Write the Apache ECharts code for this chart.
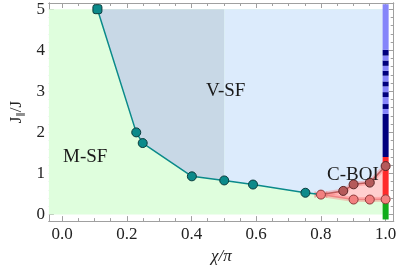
<!DOCTYPE html>
<html><head><meta charset="utf-8">
<script src="https://cdn.jsdelivr.net/npm/echarts@6/dist/echarts.min.js"></script>
<style>html,body{margin:0;padding:0;background:#fff}#c{width:399px;height:270px}</style>
</head><body><div id="c"></div>
<script>
// ---- axis ranges & ticks ----
const xRange = [-0.041, 1.025];
const yRange = [-0.16, 5.15];
const xTicks = [0, 0.2, 0.4, 0.6, 0.8, 1.0];
const xMinorTicks = [0.05,0.1,0.15,0.25,0.3,0.35,0.45,0.5,0.55,0.65,0.7,0.75,0.85,0.9,0.95];
const yTicks = [0, 1, 2, 3, 4, 5];
const yMinorTicks = [0.2,0.4,0.6,0.8,1.2,1.4,1.6,1.8,2.2,2.4,2.6,2.8,3.2,3.4,3.6,3.8,4.2,4.4,4.6,4.8];

// ---- phase boundaries (chi/pi, J||/J) ----
const msfBoundary = [[0.109,5.0],[0.229,2.0],[0.249,1.74],[0.401,0.93],[0.501,0.83],[0.590,0.73],[0.752,0.53],[0.80,0.485]];
const boiUpper = [[0.80,0.485],[0.869,0.575],[0.901,0.735],[0.951,0.777],[1.0,1.18]];
const boiLower = [[0.80,0.485],[0.901,0.365],[0.951,0.365],[1.0,0.37]];
const boiErrX = [[0.782, 0.818, 0.485]];
const diagramTop = 5.0;
const diagramBottom = 0.0;
const vsfDivider = 0.501;
const edgeX = 1.0;
// phases along chi/pi = 1 : [from, to, phase]
const edgePhases = [
  [-0.12,0.28,'MSF'],[0.28,1.40,'BOI'],[1.40,2.45,'N'],[2.45,2.57,'L'],
  [2.57,2.69,'N'],[2.69,2.86,'L'],[2.86,2.98,'N'],[2.98,3.12,'L'],
  [3.12,3.24,'N'],[3.24,3.38,'L'],[3.38,3.50,'N'],[3.50,3.62,'L'],
  [3.62,3.75,'N'],[3.75,3.87,'L'],[3.87,4.01,'N'],[4.01,5.12,'L']
];
const regionLabels = ['V-SF','M-SF','C-BOI'];

const phaseColor = {MSF:'#0fac1a', BOI:'#ff2a2a', N:'#00007e', L:'#8585fa'};

const chart = echarts.init(document.getElementById('c'), null, {renderer:'canvas'});

function poly(points, color, z){
  return {type:'custom', coordinateSystem:'cartesian2d', xAxisIndex:0, yAxisIndex:0, z:z, silent:true,
    data:[[points[0][0], points[0][1]]],
    renderItem:(params, api)=>({type:'polygon', shape:{points:points.map(p=>api.coord(p))}, style:{fill:color}})
  };
}

const greenPoly = [[xRange[0],diagramBottom],[edgeX,diagramBottom],[edgeX,diagramTop],[xRange[0],diagramTop]];
const grayPoly = msfBoundary.filter(p=>p[0]<=vsfDivider).concat([[vsfDivider,diagramTop]]);
const bluePoly = msfBoundary.filter(p=>p[0]>=vsfDivider).concat(boiUpper.slice(1)).concat([[edgeX,diagramTop],[vsfDivider,diagramTop]]);
const pinkPoly = boiUpper.concat(boiLower.slice().reverse());

const axisCol = '#a0a0a0';
const lblFont = {fontFamily:'Liberation Serif', fontSize:17, color:'#222'};
function xAx(pos, ticks, len, labels){
  return {type:'value', position:pos, min:xRange[0], max:xRange[1],
    axisLine:{show:true, onZero:false, lineStyle:{color:axisCol, width:1}},
    axisTick:{show:true, inside:true, length:len, customValues:ticks, lineStyle:{color:axisCol}},
    axisLabel: labels ? Object.assign({show:true, customValues:xTicks, margin:5, formatter:v=>Number(v).toFixed(1)}, lblFont) : {show:false},
    splitLine:{show:false}};
}
function yAx(pos, ticks, len, labels){
  return {type:'value', position:pos, min:yRange[0], max:yRange[1],
    axisLine:{show:true, onZero:false, lineStyle:{color:axisCol, width:1}},
    axisTick:{show:true, inside:true, length:len, customValues:ticks, lineStyle:{color:axisCol}},
    axisLabel: labels ? Object.assign({show:true, customValues:yTicks, margin:4, formatter:v=>String(Math.round(v))}, lblFont) : {show:false},
    splitLine:{show:false}};
}
const xAxes = [xAx('bottom', xTicks, 5, true), xAx('bottom', xMinorTicks, 3, false), xAx('top', xTicks, 5, false), xAx('top', xMinorTicks, 3, false)];
xAxes[0].name = 'χ/π';
xAxes[0].nameLocation = 'middle';
xAxes[0].nameGap = 25;
xAxes[0].nameTextStyle = {fontFamily:'Liberation Serif', fontStyle:'italic', fontSize:17, color:'#222'};
const yAxes = [yAx('left', yTicks, 5, true), yAx('left', yMinorTicks, 3, false), yAx('right', yTicks, 5, false), yAx('right', yMinorTicks, 3, false)];
yAxes[0].name = '{a|J}{b|∥}{a|/J}';
yAxes[0].nameLocation = 'middle';
yAxes[0].nameRotate = 90;
yAxes[0].nameGap = 20;
yAxes[0].nameTextStyle = {color:'#222', rich:{a:{fontFamily:'Liberation Serif', fontSize:17, color:'#222'}, b:{fontFamily:'DejaVu Sans', fontSize:9, color:'#222', padding:[9,0,0,0]}}};

const series = [
  poly(greenPoly, '#dffedd', 1),
  poly(grayPoly, '#c8d8e6', 2),
  poly(bluePoly, '#dcebfc', 2),
  poly(pinkPoly, '#ffcfcf', 3),
  {type:'custom', coordinateSystem:'cartesian2d', z:4, silent:true, data:edgePhases.map(s=>[s[0],s[1]]),
    renderItem:(params, api)=>{
      const p0 = api.coord([edgeX, api.value(0)]), p1 = api.coord([edgeX, api.value(1)]);
      return {type:'rect', shape:{x:p0[0]-3, y:p1[1], width:6, height:p0[1]-p1[1]},
        style:{fill:phaseColor[edgePhases[params.dataIndex][2]]}};
    }},
  // halos
  {type:'line', data:boiUpper, symbol:'none', z:5, lineStyle:{color:'rgba(255,110,110,0.35)', width:5}, silent:true},
  {type:'line', data:boiLower, symbol:'none', z:5, lineStyle:{color:'rgba(255,110,110,0.35)', width:5}, silent:true},
  {type:'custom', coordinateSystem:'cartesian2d', z:6, silent:true, data:boiErrX,
    renderItem:(params, api)=>{
      const a = api.coord([api.value(0), api.value(2)]), b = api.coord([api.value(1), api.value(2)]);
      const st = {stroke:'#f07878', lineWidth:1};
      return {type:'group', children:[
        {type:'line', shape:{x1:a[0], y1:a[1], x2:b[0], y2:b[1]}, style:st},
        {type:'line', shape:{x1:a[0], y1:a[1]-3, x2:a[0], y2:a[1]+3}, style:st},
        {type:'line', shape:{x1:b[0], y1:b[1]-3, x2:b[0], y2:b[1]+3}, style:st}]};
    }},
  {type:'line', data:msfBoundary.map((p,i)=> i===msfBoundary.length-1 ? {value:p, symbol:'none'} : (i===0 ? {value:p, symbol:'roundRect', symbolSize:9} : {value:p})),
    symbol:'circle', symbolSize:9, z:7, lineStyle:{color:'#0a8a8a', width:1.5},
    itemStyle:{color:'#0b8a8a', borderColor:'#0a3c3c', borderWidth:1}},
  {type:'line', data:boiUpper.map((p,i)=> i===0 ? {value:p, symbol:'none'} : {value:p}),
    symbol:'circle', symbolSize:9, z:7, lineStyle:{color:'#c05c5c', width:1.5},
    itemStyle:{color:'#b55a5a', borderColor:'#5a2626', borderWidth:1}},
  {type:'line', data:boiLower, symbol:'circle', symbolSize:9, z:8, lineStyle:{color:'#f08585', width:1.5},
    itemStyle:{color:'#f28080', borderColor:'#8c3a3a', borderWidth:1}}
];

chart.setOption({
  animation:false,
  grid:{left:38, right:4, top:3, bottom:47, containLabel:false},
  xAxis:xAxes, yAxis:yAxes, series:series,
  graphic:[
    {type:'text', left:206, top:82, z:100, style:{text:regionLabels[0], font:'19px "Liberation Serif"', fill:'#1a1a1a'}},
    {type:'text', left:63, top:148, z:100, style:{text:regionLabels[1], font:'19px "Liberation Serif"', fill:'#1a1a1a'}},
    {type:'text', left:327, top:166, z:100, style:{text:regionLabels[2], font:'19px "Liberation Serif"', fill:'#1a1a1a'}}
  ]
});
</script></body></html>
